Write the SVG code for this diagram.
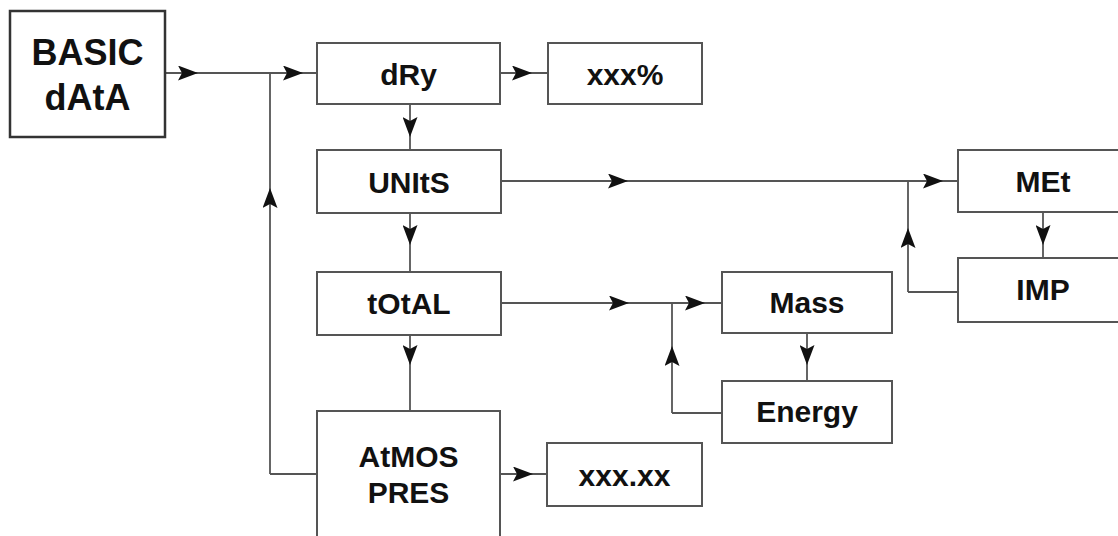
<svg xmlns="http://www.w3.org/2000/svg" width="1118" height="536" viewBox="0 0 1118 536">
<defs>
<marker id="ah" viewBox="0 0 20 15" refX="20" refY="7.5" markerWidth="20" markerHeight="15" markerUnits="userSpaceOnUse" orient="auto">
<path d="M0,0 L20,7.5 L0,15 L4,7.5 Z" fill="#111"/>
</marker>
<style>
.box{fill:#fff;stroke:#555;stroke-width:2}
.main{fill:#fff;stroke:#333;stroke-width:2.5}
.t{font-family:"Liberation Sans",Arial,sans-serif;font-weight:bold;font-size:30px;fill:#111;text-anchor:middle}
.tb{font-size:36px}
.c{fill:none;stroke:#555;stroke-width:1.8}
.m{marker-mid:url(#ah)}
</style>
</defs>
<g id="connectors">
<path class="c m" d="M165,73 L198,73 L303,73 L317,73"/>
<path class="c m" d="M500,73 L532,73 L548,73"/>
<path class="c" d="M317,474 L270,474"/>
<path class="c m" d="M270,474 L270,188 L270,73"/>
<path class="c m" d="M410,104 L410,137 L410,150"/>
<path class="c m" d="M501,181 L628,181 L943,181 L958,181"/>
<path class="c m" d="M1043,212 L1043,245 L1043,258"/>
<path class="c" d="M958,292 L908,292"/>
<path class="c m" d="M908,292 L908,228 L908,181"/>
<path class="c m" d="M410,213 L410,245 L410,272"/>
<path class="c m" d="M501,303 L629,303 L705,303 L722,303"/>
<path class="c m" d="M807,333 L807,365 L807,381"/>
<path class="c" d="M722,413 L672,413"/>
<path class="c m" d="M672,413 L672,346 L672,303"/>
<path class="c m" d="M410,335 L410,365 L410,411"/>
<path class="c m" d="M500,474 L533,474 L547,474"/>
</g>
<g id="basic">
<rect class="main" x="10" y="11" width="155" height="126"/>
<text class="t tb" x="87.5" y="65">BASIC</text>
<text class="t tb" x="87.5" y="110">dAtA</text>
</g>
<g id="dry">
<rect class="box" x="317" y="43" width="183" height="61"/>
<text class="t" x="408.5" y="85">dRy</text>
</g>
<g id="xxxpct">
<rect class="box" x="548" y="43" width="154" height="61"/>
<text class="t" x="625" y="85">xxx%</text>
</g>
<g id="units">
<rect class="box" x="317" y="150" width="184" height="63"/>
<text class="t" x="409" y="193">UNItS</text>
</g>
<g id="total">
<rect class="box" x="317" y="272" width="184" height="63"/>
<text class="t" x="409" y="314">tOtAL</text>
</g>
<g id="atmos">
<rect class="box" x="317" y="411" width="183" height="127"/>
<text class="t" x="408.5" y="467">AtMOS</text>
<text class="t" x="408.5" y="503">PRES</text>
</g>
<g id="xxxxx">
<rect class="box" x="547" y="443" width="155" height="63"/>
<text class="t" x="624.5" y="486">xxx.xx</text>
</g>
<g id="met">
<rect class="box" x="958" y="150" width="170" height="62"/>
<text class="t" x="1043" y="192">MEt</text>
</g>
<g id="imp">
<rect class="box" x="958" y="258" width="170" height="64"/>
<text class="t" x="1043" y="300">IMP</text>
</g>
<g id="mass">
<rect class="box" x="722" y="272" width="170" height="61"/>
<text class="t" x="807" y="313">Mass</text>
</g>
<g id="energy">
<rect class="box" x="722" y="381" width="170" height="62"/>
<text class="t" x="807" y="422">Energy</text>
</g>
</svg>
